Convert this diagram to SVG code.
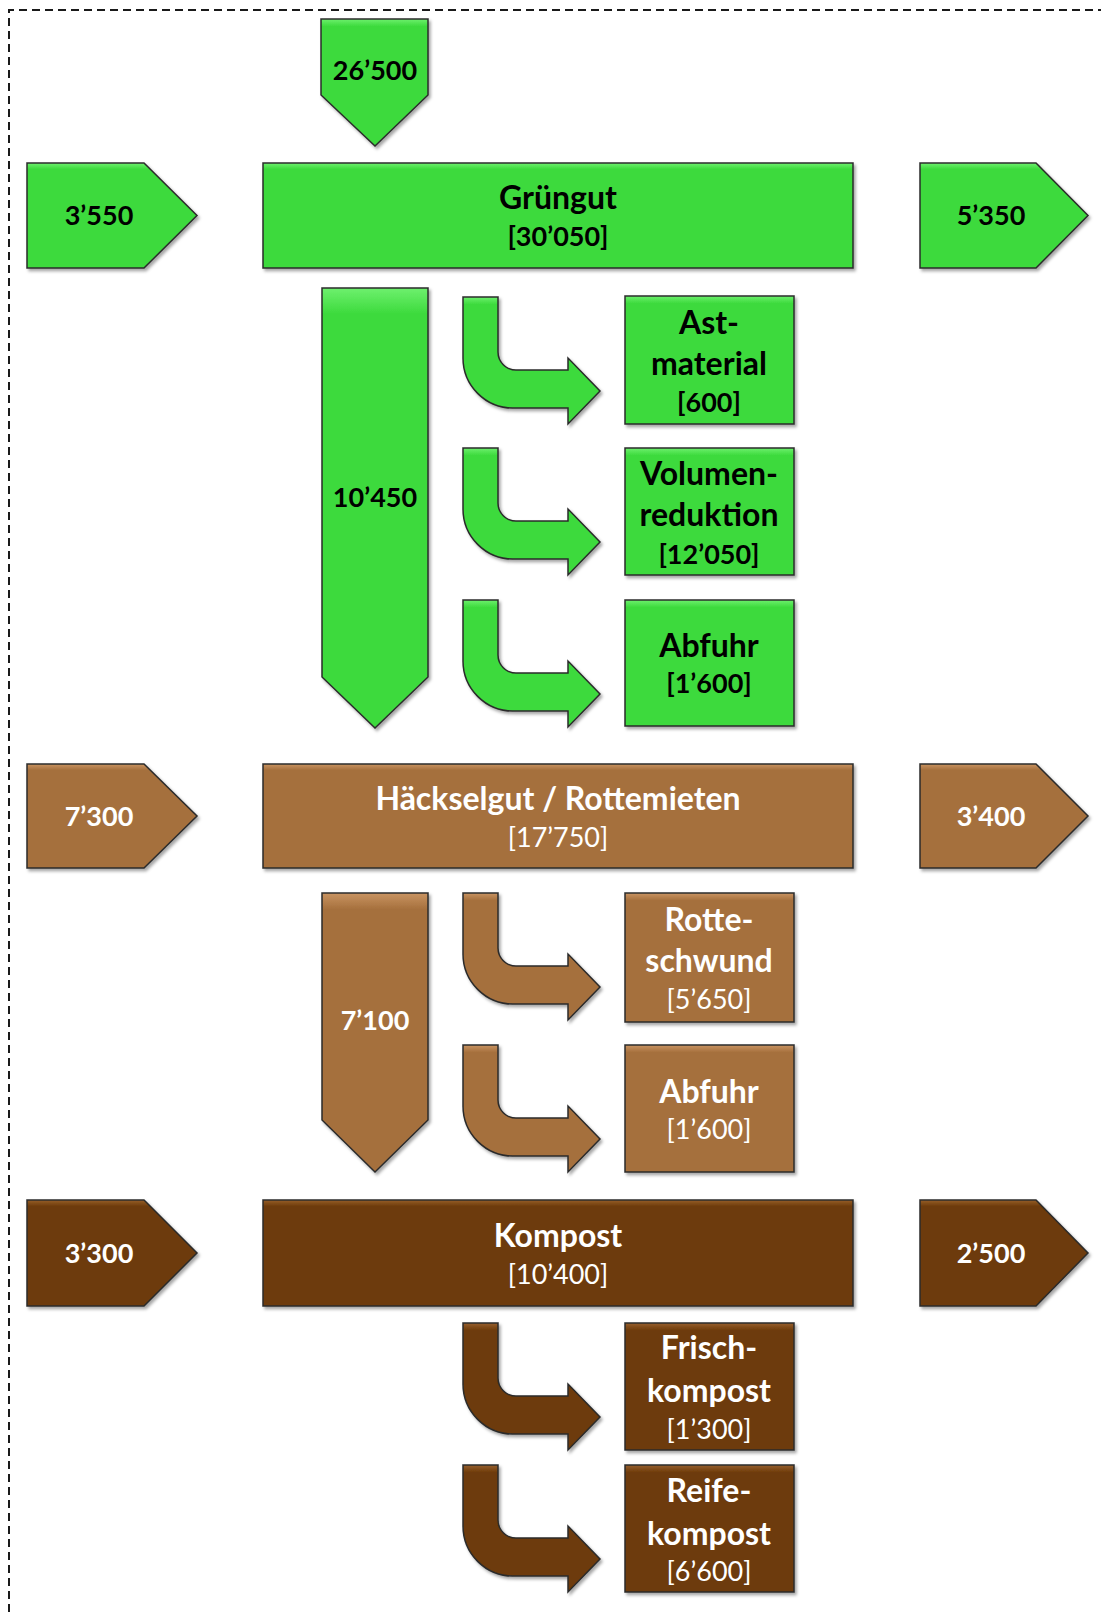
<svg xmlns="http://www.w3.org/2000/svg" width="1101" height="1612" viewBox="0 0 1101 1612">
<defs>
<filter id="sh" x="-10%" y="-10%" width="125%" height="125%">
<feDropShadow dx="2" dy="2.5" stdDeviation="1.5" flood-color="#000" flood-opacity="0.35"/>
</filter>
<linearGradient id="gG" x1="0" y1="0" x2="0" y2="1">
<stop offset="0" stop-color="#6ef06e"/><stop offset="0.06" stop-color="#3cda3c"/><stop offset="1" stop-color="#3cda3c"/>
</linearGradient>
<linearGradient id="gB" x1="0" y1="0" x2="0" y2="1">
<stop offset="0" stop-color="#c99462"/><stop offset="0.06" stop-color="#a56f3c"/><stop offset="1" stop-color="#a56f3c"/>
</linearGradient>
<linearGradient id="gD" x1="0" y1="0" x2="0" y2="1">
<stop offset="0" stop-color="#97602d"/><stop offset="0.06" stop-color="#6d3a07"/><stop offset="1" stop-color="#6d3a07"/>
</linearGradient>
<path id="curve" d="M0,0 L35,0 L35,55 A18,18 0 0 0 53,73 L105,73 L105,61 L137,94 L105,127 L105,111 L50,111 A50,50 0 0 1 0,61 Z"/>
</defs>
<style>
.g{fill:url(#gG);stroke:#2b2b2b;stroke-width:1.5;filter:url(#sh)}
.b{fill:url(#gB);stroke:#2b2b2b;stroke-width:1.5;filter:url(#sh)}
.d{fill:url(#gD);stroke:#2b2b2b;stroke-width:1.5;filter:url(#sh)}
text{font-family:Lato,"Open Sans","Liberation Sans",sans-serif;text-anchor:middle}
.tk{fill:#000;font-weight:bold}
.tw{fill:#fff;font-weight:bold}
.tn{fill:#fff;font-weight:normal}
.big{font-size:32px}
.mid{font-size:27px}
.num{font-size:27px}
</style>
<path d="M9,1612 L9,10 L1101,10" fill="none" stroke="#1a1a1a" stroke-width="2" stroke-dasharray="8,5"/>

<g id="connectors">
<g id="in-26500"><path class="g" d="M321,19 L428,19 L428,95 L375,146 L321,95 Z"/><text class="tk num" x="375" y="80">26’500</text></g>
<g id="in-3550"><path class="g" d="M27,163 L144,163 L197,215.5 L144,268 L27,268 Z"/><text class="tk num" x="99" y="225">3’550</text></g>
<g id="out-5350"><path class="g" d="M920,163 L1036,163 L1088,215.5 L1036,268 L920,268 Z"/><text class="tk num" x="991" y="225">5’350</text></g>
<g id="flow-10450"><path class="g" d="M322,288 L428,288 L428,677 L375,728 L322,677 Z"/><text class="tk num" x="375" y="507">10’450</text></g>
<use class="g" href="#curve" x="463" y="297"/>
<use class="g" href="#curve" x="463" y="448"/>
<use class="g" href="#curve" x="463" y="600"/>

<g id="in-7300"><path class="b" d="M27,764 L144,764 L197,816 L144,868 L27,868 Z"/><text class="tw num" x="99" y="826">7’300</text></g>
<g id="out-3400"><path class="b" d="M920,764 L1036,764 L1088,816 L1036,868 L920,868 Z"/><text class="tw num" x="991" y="826">3’400</text></g>
<g id="flow-7100"><path class="b" d="M322,893 L428,893 L428,1120 L375,1172 L322,1120 Z"/><text class="tw num" x="375" y="1030">7’100</text></g>
<use class="b" href="#curve" x="463" y="893"/>
<use class="b" href="#curve" x="463" y="1045"/>

<g id="in-3300"><path class="d" d="M27,1200 L144,1200 L197,1253 L144,1306 L27,1306 Z"/><text class="tw num" x="99" y="1263">3’300</text></g>
<g id="out-2500"><path class="d" d="M920,1200 L1036,1200 L1088,1253 L1036,1306 L920,1306 Z"/><text class="tw num" x="991" y="1263">2’500</text></g>
<use class="d" href="#curve" x="463" y="1323"/>
<use class="d" href="#curve" x="463" y="1465"/>
</g>

<g id="gruengut"><rect class="g" x="263" y="163" width="590" height="105"/>
<text class="tk big" x="558" y="209">Grüngut</text><text class="tk mid" x="558" y="246">[30’050]</text></g>
<g id="astmaterial"><rect class="g" x="625" y="296" width="169" height="128"/>
<text class="tk big" x="709" y="334">Ast-</text><text class="tk big" x="709" y="375">material</text><text class="tk mid" x="709" y="412">[600]</text></g>
<g id="volumenreduktion"><rect class="g" x="625" y="448" width="169" height="127"/>
<text class="tk big" x="709" y="485">Volumen-</text><text class="tk big" x="709" y="526">reduktion</text><text class="tk mid" x="709" y="564">[12’050]</text></g>
<g id="abfuhr1"><rect class="g" x="625" y="600" width="169" height="126"/>
<text class="tk big" x="709" y="657">Abfuhr</text><text class="tk mid" x="709" y="693">[1’600]</text></g>

<g id="haeckselgut"><rect class="b" x="263" y="764" width="590" height="104"/>
<text class="tw big" x="558" y="810">Häckselgut / Rottemieten</text><text class="tn mid" x="558" y="847">[17’750]</text></g>
<g id="rotteschwund"><rect class="b" x="625" y="893" width="169" height="129"/>
<text class="tw big" x="709" y="931">Rotte-</text><text class="tw big" x="709" y="972">schwund</text><text class="tn mid" x="709" y="1009">[5’650]</text></g>
<g id="abfuhr2"><rect class="b" x="625" y="1045" width="169" height="127"/>
<text class="tw big" x="709" y="1103">Abfuhr</text><text class="tn mid" x="709" y="1139">[1’600]</text></g>

<g id="kompost"><rect class="d" x="263" y="1200" width="590" height="106"/>
<text class="tw big" x="558" y="1247">Kompost</text><text class="tn mid" x="558" y="1284">[10’400]</text></g>
<g id="frischkompost"><rect class="d" x="625" y="1323" width="169" height="127"/>
<text class="tw big" x="709" y="1359">Frisch-</text><text class="tw big" x="709" y="1402">kompost</text><text class="tn mid" x="709" y="1439">[1’300]</text></g>
<g id="reifekompost"><rect class="d" x="625" y="1465" width="169" height="127"/>
<text class="tw big" x="709" y="1502">Reife-</text><text class="tw big" x="709" y="1545">kompost</text><text class="tn mid" x="709" y="1581">[6’600]</text></g>
</svg>
